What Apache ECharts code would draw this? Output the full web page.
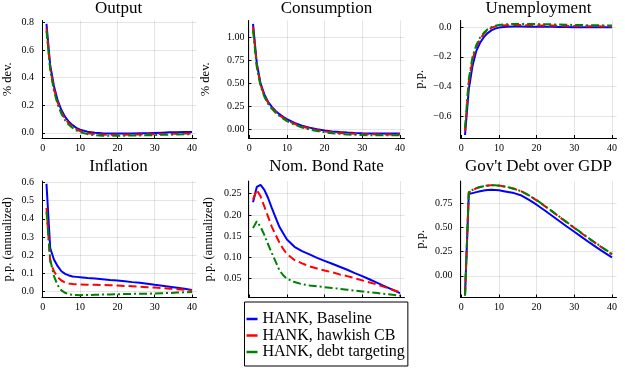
<!DOCTYPE html>
<html><head><meta charset="utf-8">
<script src="https://cdn.jsdelivr.net/npm/echarts@6/dist/echarts.min.js"></script>
<style>html,body{margin:0;padding:0;background:#fff}#c{width:625px;height:375px}</style>
</head><body><div id="c"></div>
<script>
// ---------------- data ----------------
const periods = [1,2,3,4,5,6,7,8,9,10,12,14,16,18,20,22,24,26,28,30,32,34,36,38,40];
const seriesNames = ["HANK, Baseline","HANK, hawkish CB","HANK, debt targeting"];
const panelTitles = ["Output","Consumption","Unemployment","Inflation","Nom. Bond Rate","Gov't Debt over GDP"];
const yAxisNames = ["% dev.","% dev.","p.p.","p.p. (annualized)","p.p. (annualized)","p.p."];
const xTickValues = [0,10,20,30,40];
const yTickValues = [
  [0,0.2,0.4,0.6,0.8],
  [0,0.25,0.5,0.75,1.0],
  [-0.6,-0.4,-0.2,0],
  [0,0.1,0.2,0.3,0.4,0.5,0.6],
  [0.05,0.10,0.15,0.20,0.25],
  [0,0.25,0.5,0.75]
];
const yTickDecimals = [1,2,1,1,2,2];

const outputBaseline = [0.79,0.49,0.34,0.235,0.165,0.115,0.08,0.055,0.036,0.023,0.008,0.0,-0.004,-0.006,-0.006,-0.006,-0.005,-0.004,-0.003,-0.001,0.001,0.003,0.004,0.005,0.006];
const outputHawkish  = [0.76,0.47,0.32,0.22,0.15,0.10,0.068,0.044,0.026,0.013,-0.003,-0.01,-0.013,-0.014,-0.014,-0.014,-0.013,-0.012,-0.011,-0.01,-0.009,-0.008,-0.007,-0.006,-0.005];
const outputDebt     = [0.74,0.455,0.305,0.205,0.138,0.09,0.058,0.035,0.018,0.005,-0.01,-0.018,-0.021,-0.022,-0.022,-0.021,-0.02,-0.019,-0.018,-0.017,-0.015,-0.014,-0.012,-0.011,-0.01];

const consBaseline = [1.15,0.72,0.50,0.38,0.30,0.245,0.2,0.165,0.135,0.11,0.07,0.04,0.018,0.0,-0.013,-0.023,-0.03,-0.036,-0.04,-0.043,-0.045,-0.046,-0.046,-0.046,-0.045];
const consHawkish  = [1.12,0.70,0.485,0.37,0.29,0.235,0.19,0.155,0.125,0.1,0.06,0.03,0.008,-0.01,-0.023,-0.033,-0.04,-0.046,-0.05,-0.053,-0.055,-0.056,-0.056,-0.056,-0.055];
const consDebt     = [1.08,0.68,0.47,0.355,0.278,0.222,0.18,0.145,0.115,0.09,0.05,0.02,-0.002,-0.02,-0.033,-0.043,-0.05,-0.056,-0.06,-0.063,-0.065,-0.066,-0.066,-0.066,-0.065];

const unempBaseline = [-0.728,-0.42,-0.26,-0.16,-0.105,-0.067,-0.04,-0.022,-0.01,-0.003,0.003,0.004,0.004,0.003,0.003,0.002,0.002,0.001,0.001,0.0,0.0,0.0,-0.001,-0.001,-0.001];
const unempHawkish  = [-0.70,-0.37,-0.22,-0.13,-0.08,-0.045,-0.02,-0.005,0.005,0.01,0.013,0.014,0.014,0.013,0.012,0.012,0.011,0.01,0.009,0.008,0.007,0.007,0.006,0.005,0.005];
const unempDebt     = [-0.68,-0.35,-0.2,-0.12,-0.07,-0.038,-0.014,0.0,0.01,0.015,0.02,0.021,0.022,0.022,0.021,0.02,0.019,0.018,0.016,0.015,0.014,0.013,0.013,0.012,0.011];

const inflBaseline = [0.593,0.239,0.175,0.138,0.11,0.096,0.087,0.081,0.079,0.077,0.073,0.070,0.066,0.062,0.059,0.055,0.05,0.046,0.041,0.035,0.030,0.025,0.019,0.013,0.007];
const inflHawkish  = [0.46,0.165,0.11,0.077,0.059,0.048,0.042,0.039,0.038,0.037,0.036,0.035,0.034,0.033,0.031,0.029,0.027,0.025,0.022,0.02,0.017,0.014,0.011,0.008,0.004];
const inflDebt     = [0.44,0.175,0.083,0.033,0.004,-0.009,-0.017,-0.02,-0.021,-0.022,-0.021,-0.02,-0.019,-0.018,-0.017,-0.016,-0.015,-0.014,-0.014,-0.013,-0.011,-0.01,-0.008,-0.006,-0.004];

const rateBaseline = [0.230,0.266,0.271,0.259,0.24,0.216,0.194,0.172,0.157,0.142,0.125,0.115,0.107,0.099,0.092,0.085,0.078,0.071,0.063,0.056,0.048,0.040,0.032,0.024,0.016];
const rateHawkish  = [0.236,0.259,0.244,0.22,0.196,0.172,0.153,0.135,0.12,0.108,0.094,0.086,0.079,0.074,0.069,0.065,0.06,0.056,0.051,0.046,0.041,0.036,0.03,0.024,0.018];
const rateDebt     = [0.169,0.185,0.172,0.153,0.131,0.11,0.09,0.07,0.058,0.05,0.042,0.037,0.034,0.032,0.03,0.028,0.026,0.024,0.022,0.02,0.018,0.016,0.014,0.012,0.01];

const debtBaseline = [-0.2,0.845,0.855,0.865,0.875,0.882,0.887,0.889,0.888,0.884,0.87,0.855,0.83,0.785,0.735,0.68,0.624,0.567,0.51,0.455,0.4,0.345,0.292,0.24,0.19];
const debtHawkish  = [-0.19,0.86,0.885,0.905,0.918,0.927,0.933,0.936,0.936,0.933,0.92,0.9,0.872,0.83,0.78,0.725,0.668,0.61,0.552,0.495,0.438,0.382,0.328,0.275,0.222];
const debtDebt     = [-0.205,0.865,0.888,0.906,0.918,0.926,0.932,0.935,0.935,0.932,0.92,0.9,0.873,0.832,0.783,0.728,0.671,0.613,0.555,0.498,0.441,0.385,0.331,0.278,0.226];

const panelData = [
  [outputBaseline, outputHawkish, outputDebt],
  [consBaseline, consHawkish, consDebt],
  [unempBaseline, unempHawkish, unempDebt],
  [inflBaseline, inflHawkish, inflDebt],
  [rateBaseline, rateHawkish, rateDebt],
  [debtBaseline, debtHawkish, debtDebt]
];

// ---------------- layout / style ----------------
const yRanges = [[-0.038,0.815],[-0.095,1.186],[-0.748,0.045],[-0.035,0.609],[0.0056,0.280],[-0.224,0.98]];
const gridLefts = [40.5, 248.5, 460.5];
const gridTops = [20.5, 181];
const gridHeights = [117.5, 116.5];
const gridWidth = 156;
const titleTops = [0, 158];
const yLabelMargins = [8,4,9,8,7,8];
const yNameGaps = [28,36,34,28,33,33.5];
const colors = ['#0000ff','#ff0000','#008000'];
const dashes = ['solid',[8,4],[8,3,2,3]];
const FONT = 'Liberation Serif';

const grids = [], xAxes = [], yAxes = [], series = [], titles = [];
for (let p = 0; p < 6; p++) {
  const col = p % 3, row = Math.floor(p / 3);
  grids.push({left: gridLefts[col], top: gridTops[row], width: gridWidth, height: gridHeights[row]});
  titles.push({
    text: panelTitles[p], left: gridLefts[col] + gridWidth/2, top: titleTops[row], padding: 0,
    textAlign: 'center',
    textStyle: {fontFamily: FONT, fontSize: 17, fontWeight: 'normal', color: '#000'}
  });
  xAxes.push({
    type: 'value', gridIndex: p, min: -0.2, max: 41.2,
    axisLine: {show: true, onZero: false, lineStyle: {color: '#000', width: 1}},
    axisTick: {show: true, inside: true, length: 3, customValues: xTickValues, lineStyle: {color: '#000'}},
    axisLabel: {customValues: xTickValues, margin: 5, fontFamily: FONT, fontSize: 10, color: '#000', formatter: v => String(v)},
    splitLine: {show: true, lineStyle: {color: 'rgba(0,0,0,0.1)', width: 1}}
  });
  const d = yTickDecimals[p];
  yAxes.push({
    type: 'value', gridIndex: p, min: yRanges[p][0], max: yRanges[p][1],
    name: yAxisNames[p], nameLocation: 'middle', nameRotate: 90, nameGap: yNameGaps[p],
    nameTextStyle: {fontFamily: FONT, fontSize: 12.5, color: '#000'},
    axisLine: {show: true, onZero: false, lineStyle: {color: '#000', width: 1}},
    axisTick: {show: true, inside: true, length: 3, customValues: yTickValues[p], lineStyle: {color: '#000'}},
    axisLabel: {customValues: yTickValues[p], margin: yLabelMargins[p], fontFamily: FONT, fontSize: 10, color: '#000',
      formatter: v => Number(v).toFixed(d).replace('-', '\u2212')},
    splitLine: {show: true, lineStyle: {color: 'rgba(0,0,0,0.1)', width: 1}}
  });
  for (let s = 0; s < 3; s++) {
    series.push({
      type: 'line', name: seriesNames[s], xAxisIndex: p, yAxisIndex: p,
      data: periods.map((x, i) => [x, panelData[p][s][i]]),
      showSymbol: false, symbol: 'none', clip: true,
      lineStyle: {color: colors[s], width: 2, type: dashes[s]},
      itemStyle: {color: colors[s]}
    });
  }
}

const chart = echarts.init(document.getElementById('c'), null, {renderer: 'canvas'});
chart.setOption({
  animation: false,
  backgroundColor: '#fff',
  title: titles,
  grid: grids,
  xAxis: xAxes,
  yAxis: yAxes,
  legend: {
    data: seriesNames, orient: 'vertical', left: 244.5, top: 302,
    backgroundColor: '#fff', borderColor: '#000', borderWidth: 1, borderRadius: 0,
    padding: [9, 3, 6, 2], itemGap: 0.5, itemWidth: 11, itemHeight: 2.5, icon: 'rect',
    textStyle: {fontFamily: FONT, fontSize: 16, color: '#000', lineHeight: 15},
    selectedMode: false
  },
  series: series
});
</script>
</body></html>
